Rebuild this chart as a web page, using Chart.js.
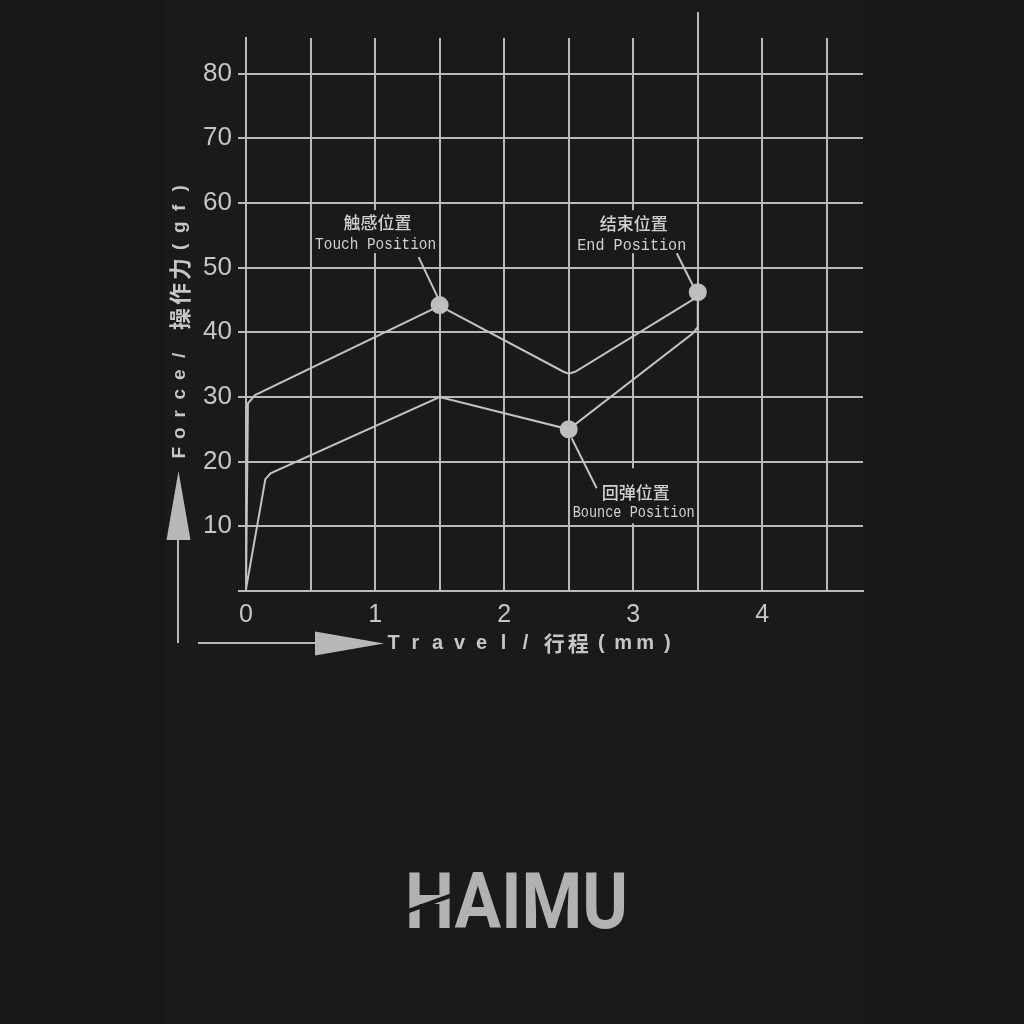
<!DOCTYPE html>
<html>
<head>
<meta charset="utf-8">
<script src="https://cdn.jsdelivr.net/npm/chart.js@4.4.1/dist/chart.umd.min.js"></script>
<style>
  html, body { margin: 0; padding: 0; background: #161716; overflow: hidden; }
  canvas { display: block; }
</style>
</head>
<body>
<canvas id="forceChart" width="1024" height="1024"></canvas>
<script>
// Force / travel curve of the switch
const pressTravel = [0, 0.015, 0.07, 1.5, 2.46, 2.5, 2.55, 3.5];
const pressForce  = [0, 29.0, 30.3, 44.1, 33.9, 33.6, 33.9, 45.5];

const releaseTravel = [3.5, 3.5, 3.46, 2.5, 1.5, 0.19, 0.15, 0];
const releaseForce  = [46.2, 40.8, 39.8, 25.0, 30.0, 18.2, 17.3, 0.3];

// marked positions: touch, bounce, end
const markTravel = [1.5, 2.5, 3.5];
const markForce  = [44.2, 25.0, 46.2];
const markNameCn = ['触感位置', '回弹位置', '结束位置'];
const markNameEn = ['Touch Position', 'Bounce Position', 'End Position'];

const xTitle = 'Travel/ 行程(mm)';
const yTitle = 'Force/ 操作力(gf)';
const brand = 'HAIMU';

const gridColor = '#b9b9b9';
const curveColor = '#c2c2c2';
const textColor = '#c6c6c6';
const panelColor = '#191a19';

// where each callout sits, in pixels relative to its marker
const calloutLayout = [
  { cx: -64, cnY: -83, enY: -61, enW: 121, box: [-127, -95, 125, 43], lead: [-21, -48, -2, -8] },
  { cx: 65, cnY: 63, enY: 83, enW: 122, box: [2, 39, 126, 55], lead: [3, 9, 28, 59] },
  { cx: -66, cnY: -69, enY: -47, enW: 109, box: [-126, -82, 122, 43], lead: [-21, -39, -5, -7] }
];

function toPoints(xs, ys) {
  return xs.map((v, i) => ({ x: v, y: ys[i] }));
}

function isCjk(ch) {
  return /[\u3400-\u9fff]/.test(ch);
}

// draws text one character per cell, like the spaced-out labels in the original
function drawSpaced(ctx, str, latinFont, cjkFont, latinPitch, cjkPitch, gap) {
  let x = 0;
  ctx.textAlign = 'center';
  ctx.textBaseline = 'middle';
  for (const ch of str) {
    if (ch === ' ') { x += gap; continue; }
    const cjk = isCjk(ch);
    const pitch = cjk ? cjkPitch : latinPitch;
    ctx.font = cjk ? cjkFont : latinFont;
    ctx.fillText(ch, x + pitch / 2, 0);
    x += pitch;
  }
}

const decorPlugin = {
  id: 'decor',
  beforeDraw(chart) {
    const ctx = chart.ctx;
    ctx.save();
    ctx.fillStyle = panelColor;
    ctx.fillRect(165, 0, 700, chart.height);
    ctx.restore();
  },
  afterDraw(chart) {
    const { ctx, chartArea } = chart;
    const xs = chart.scales.x, ys = chart.scales.y;
    ctx.save();

    // the 3.5 mm line runs up past the plot
    ctx.strokeStyle = gridColor;
    ctx.lineWidth = 2;
    const endX = Math.round(xs.getPixelForValue(3.5));
    ctx.beginPath();
    ctx.moveTo(endX, 12);
    ctx.lineTo(endX, chartArea.top);
    ctx.stroke();

    // axis arrows
    ctx.strokeStyle = '#b8b8b8';
    ctx.fillStyle = '#b8b8b8';
    ctx.beginPath();
    ctx.moveTo(178, 643); ctx.lineTo(178, 540);
    ctx.moveTo(198, 643); ctx.lineTo(315, 643);
    ctx.stroke();
    ctx.beginPath();
    ctx.moveTo(178.5, 471); ctx.lineTo(166.5, 540); ctx.lineTo(190.5, 540); ctx.closePath();
    ctx.fill();
    ctx.beginPath();
    ctx.moveTo(384, 643.5); ctx.lineTo(315, 631.5); ctx.lineTo(315, 655.5); ctx.closePath();
    ctx.fill();

    // axis titles
    ctx.fillStyle = textColor;
    ctx.save();
    ctx.translate(382.5, 643);
    drawSpaced(ctx, xTitle, 'bold 20px "Liberation Sans"', '600 21px "Noto Sans CJK SC"', 22, 24, 5.75);
    ctx.restore();
    ctx.save();
    ctx.translate(180, 462.5);
    ctx.rotate(-Math.PI / 2);
    drawSpaced(ctx, yTitle, 'bold 19px "Liberation Sans"', '600 22px "Noto Sans CJK SC"', 19.5, 25, 14);
    ctx.restore();

    // callouts
    markTravel.forEach((t, i) => {
      const px = xs.getPixelForValue(t);
      const py = ys.getPixelForValue(markForce[i]);
      const lay = calloutLayout[i];
      ctx.fillStyle = panelColor;
      ctx.fillRect(px + lay.box[0], py + lay.box[1], lay.box[2], lay.box[3]);
      ctx.strokeStyle = curveColor;
      ctx.lineWidth = 2;
      ctx.beginPath();
      ctx.moveTo(px + lay.lead[0], py + lay.lead[1]);
      ctx.lineTo(px + lay.lead[2], py + lay.lead[3]);
      ctx.stroke();
      ctx.fillStyle = '#d0d0d0';
      ctx.textAlign = 'center';
      ctx.textBaseline = 'middle';
      ctx.font = '500 17px "Noto Sans CJK SC"';
      ctx.fillText(markNameCn[i], px + lay.cx + 2, py + lay.cnY);
      ctx.save();
      ctx.font = '15px "Liberation Mono"';
      const tw = ctx.measureText(markNameEn[i]).width;
      ctx.translate(px + lay.cx, py + lay.enY);
      ctx.scale(lay.enW / tw, 1.15);
      ctx.fillText(markNameEn[i], 0, 0);
      ctx.restore();
    });

    // brand
    ctx.save();
    ctx.font = 'bold 77px Roboto';
    ctx.textAlign = 'left';
    ctx.textBaseline = 'alphabetic';
    const w = ctx.measureText(brand).width;
    ctx.translate(405, 928);
    ctx.scale(223 / w, 1);
    ctx.fillStyle = '#b2b2b2';
    ctx.fillText(brand, 0, 0);
    ctx.restore();
    ctx.strokeStyle = panelColor;
    ctx.lineWidth = 4;
    ctx.beginPath();
    ctx.moveTo(403, 913);
    ctx.lineTo(458, 893);
    ctx.stroke();

    ctx.restore();
  }
};

const ctx = document.getElementById('forceChart').getContext('2d');
new Chart(ctx, {
  type: 'scatter',
  data: {
    datasets: [
      {
        label: 'Press',
        data: toPoints(pressTravel, pressForce),
        showLine: true,
        borderColor: curveColor,
        borderWidth: 2,
        pointRadius: 0,
        fill: false
      },
      {
        label: 'Release',
        data: toPoints(releaseTravel, releaseForce),
        showLine: true,
        borderColor: curveColor,
        borderWidth: 2,
        pointRadius: 0,
        fill: false
      },
      {
        label: 'Positions',
        data: toPoints(markTravel, markForce),
        showLine: false,
        pointRadius: 9,
        pointBackgroundColor: '#bdbdbd',
        pointBorderWidth: 0
      }
    ]
  },
  options: {
    responsive: false,
    animation: false,
    devicePixelRatio: 1,
    layout: { padding: { left: 0, top: 38, right: 161, bottom: 373 } },
    plugins: {
      legend: { display: false },
      tooltip: { enabled: false }
    },
    scales: {
      x: {
        type: 'linear',
        min: 0,
        max: 4.78,
        afterFit: scale => { scale.height = 60; },
        ticks: {
          stepSize: 0.5,
          includeBounds: false,
          autoSkip: false,
          maxRotation: 0,
          padding: 9,
          color: textColor,
          font: { family: '"Liberation Sans", Arial, sans-serif', size: 25 },
          callback: v => Number.isInteger(v) ? v : ''
        },
        grid: { color: gridColor, lineWidth: 2, drawTicks: false },
        border: { color: gridColor, width: 2 }
      },
      y: {
        min: 0,
        max: 85.5,
        afterFit: scale => { scale.width = 246; },
        ticks: {
          stepSize: 10,
          includeBounds: false,
          padding: 6,
          color: textColor,
          font: { family: '"Liberation Sans", Arial, sans-serif', size: 26 },
          callback: v => v === 0 ? '' : v
        },
        grid: { color: gridColor, lineWidth: 2, tickLength: 8 },
        border: { color: gridColor, width: 2 }
      }
    }
  },
  plugins: [decorPlugin]
});
</script>
</body>
</html>
